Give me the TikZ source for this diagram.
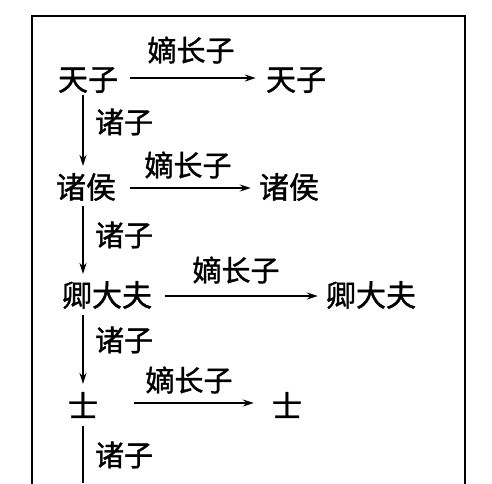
\documentclass[tikz,border=0pt]{standalone}
\usepackage{fontspec}
\newfontfamily\cjk[FakeBold=1.2]{Noto Sans CJK SC}
\usetikzlibrary{arrows.meta,calc}
\begin{document}
\begin{tikzpicture}[x=1pt,y=-1pt,
  term/.style={font=\cjk\fontsize{30}{30}\selectfont, inner sep=0pt},
  lab/.style={font=\cjk\fontsize{29}{29}\selectfont, inner sep=0pt},
  arr/.style={-{Stealth[length=11pt,width=7pt]}, line width=1.8pt},
  frame/.style={line width=2.6pt}]
\useasboundingbox (0,0) rectangle (492,483);
\begin{scope}
\clip (0,0) rectangle (492,483);
\draw[frame] (32,16) rectangle (465,500);
\end{scope}
\coordinate (col) at (83,0);
% rows
\node[term] (a1) at (88,80) {天子};
\node[term] (a2) at (296,80) {天子};
\node[term] (b1) at (86,187) {诸侯};
\node[term] (b2) at (289,187) {诸侯};
\node[term] (c1) at (107,295) {卿大夫};
\node[term] (c2) at (371,295) {卿大夫};
\node[term] (d1) at (83,405) {士};
\node[term] (d2) at (287,405) {士};
\coordinate (e1) at (83,483);
% horizontal
\draw[arr] ($(a1.east)+(12,-2)$) -- ($(a2.west)+(-10,-2)$);
\draw[arr] ($(b1.east)+(14,1)$) -- ($(b2.west)+(-8,1)$);
\draw[arr] ($(c1.east)+(13,1)$) -- ($(c2.west)+(-8,1)$);
\draw[arr] ($(d1.east)+(36,-2)$) -- ($(d2.west)+(-18,-2)$);
% horizontal labels
\node[lab] (l1) at (191,50) {嫡长子};
\node[lab] (l2) at (188,165) {嫡长子};
\node[lab] (l3) at (236,270) {嫡长子};
\node[lab] (l4) at (189,380) {嫡长子};
% vertical
\draw[arr] ($(a1.south -| col)+(0,2)$) -- ($(b1.north -| col)+(0,-7)$);
\draw[arr] ($(b1.south -| col)+(0,5)$) -- ($(c1.north -| col)+(0,-7)$);
\draw[arr] ($(c1.south -| col)+(0,6)$) -- ($(d1.north -| col)+(0,-8)$);
\draw[line width=1.8pt] ($(d1.south -| col)+(0,8)$) -- (e1);
% vertical labels
\node[lab] (v1) at (124,122) {诸子};
\node[lab] (v2) at (124,235) {诸子};
\node[lab] (v3) at (124,340) {诸子};
\node[lab] (v4) at (124,455) {诸子};
\end{tikzpicture}
\end{document}
